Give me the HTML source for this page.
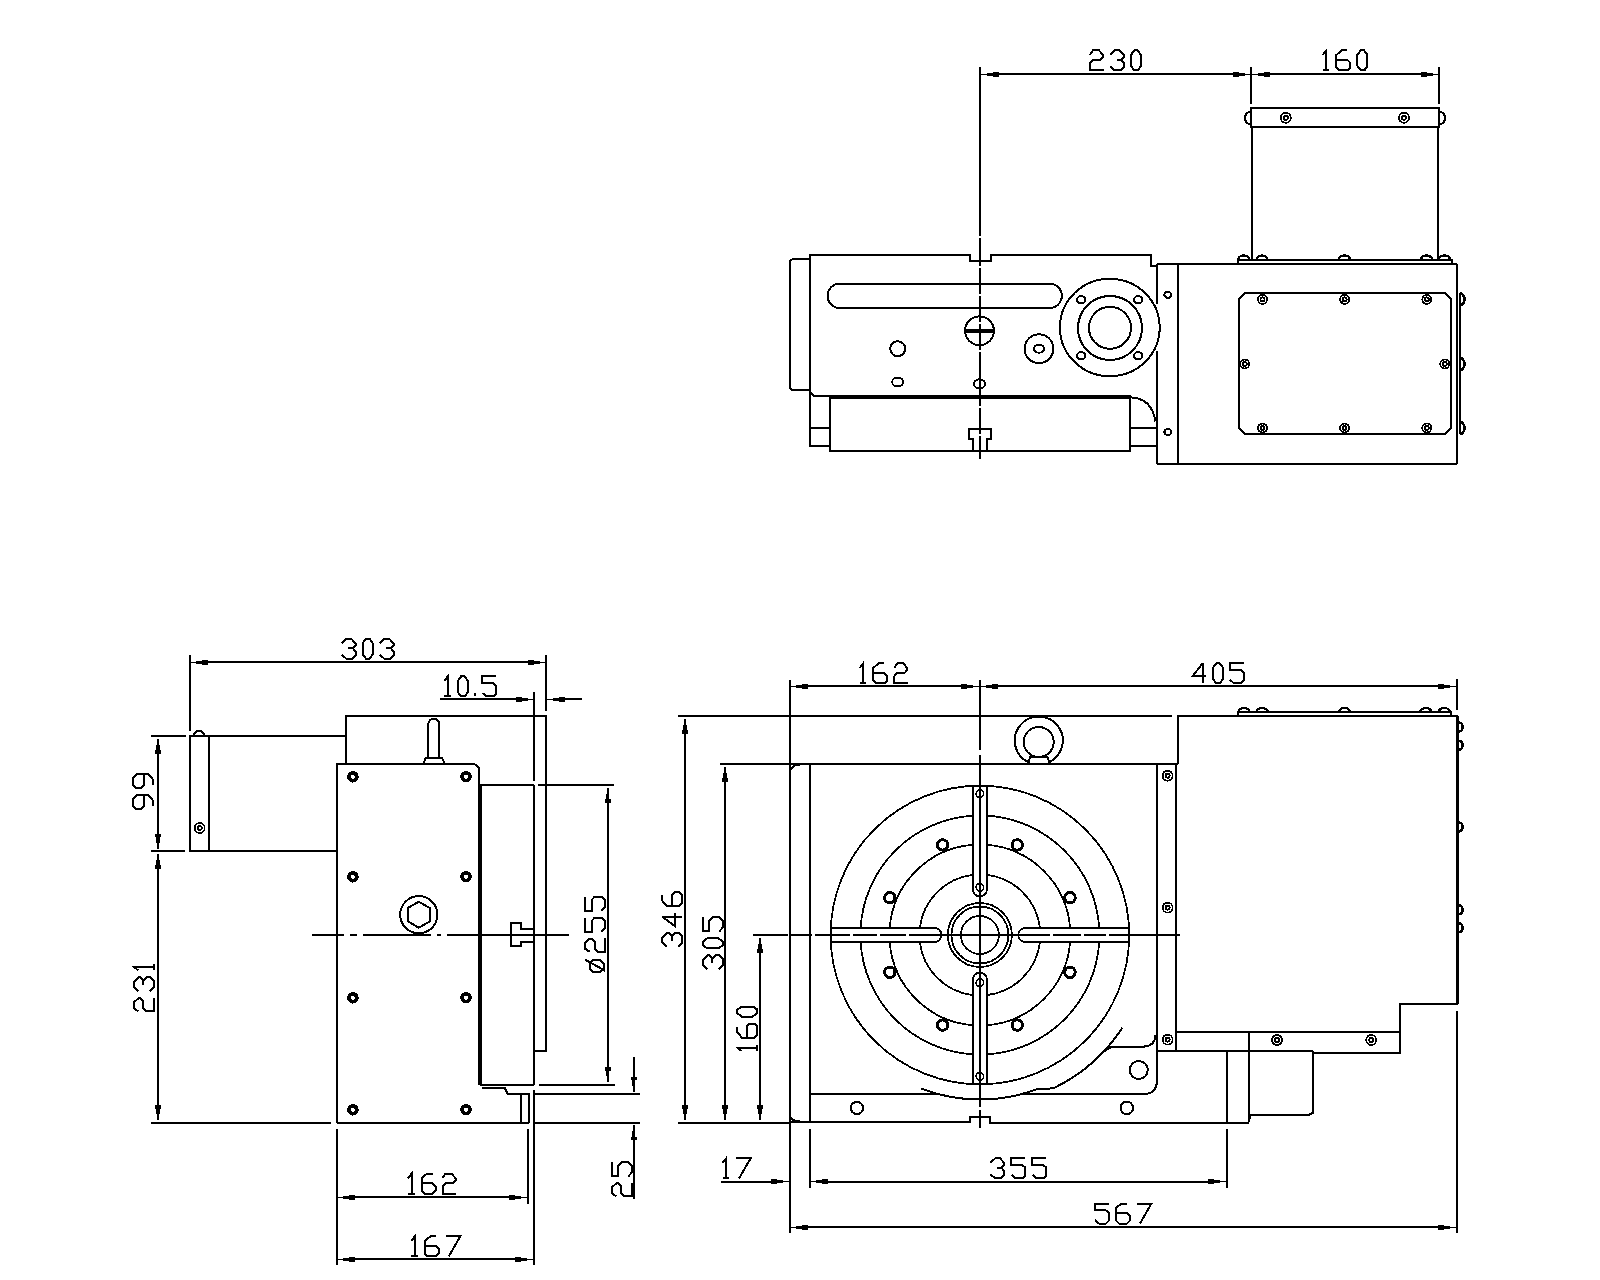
<!DOCTYPE html>
<html><head><meta charset="utf-8"><style>
html,body{margin:0;padding:0;background:#fff;}
body{width:1600px;height:1280px;overflow:hidden;font-family:"Liberation Sans",sans-serif;}
svg{display:block;}
</style></head><body>
<svg width="1600" height="1280" viewBox="0 0 1600 1280">
<rect x="0" y="0" width="1600" height="1280" fill="#fff"/>
<g fill="none" stroke="#000" stroke-linecap="butt" stroke-linejoin="miter" shape-rendering="crispEdges">
<line x1="980" y1="67" x2="980" y2="236" stroke-width="2"/>
<line x1="992" y1="74" x2="1239" y2="74" stroke-width="2"/>
<rect x="980" y="73.5" width="6.5" height="1" fill="#000" stroke="none"/>
<rect x="986.5" y="72.5" width="6" height="3" fill="#000" stroke="none"/>
<rect x="992.5" y="71.5" width="6" height="5" fill="#000" stroke="none"/>
<rect x="1244.5" y="73.5" width="6.5" height="1" fill="#000" stroke="none"/>
<rect x="1238.5" y="72.5" width="6" height="3" fill="#000" stroke="none"/>
<rect x="1232.5" y="71.5" width="6" height="5" fill="#000" stroke="none"/>
<line x1="1263" y1="74" x2="1427" y2="74" stroke-width="2"/>
<rect x="1251" y="73.5" width="6.5" height="1" fill="#000" stroke="none"/>
<rect x="1257.5" y="72.5" width="6" height="3" fill="#000" stroke="none"/>
<rect x="1263.5" y="71.5" width="6" height="5" fill="#000" stroke="none"/>
<rect x="1432.5" y="73.5" width="6.5" height="1" fill="#000" stroke="none"/>
<rect x="1426.5" y="72.5" width="6" height="3" fill="#000" stroke="none"/>
<rect x="1420.5" y="71.5" width="6" height="5" fill="#000" stroke="none"/>
<line x1="1251" y1="67" x2="1251" y2="104" stroke-width="2"/>
<line x1="1439" y1="67" x2="1439" y2="104" stroke-width="2"/>
<g transform="translate(1090,50.4)" stroke-width="2" stroke-linejoin="miter"><path transform="translate(0,0)" d="M0,4.5 L3,0 L9,0 L13,4.5 L13,6.5 L10.5,9.5 L3,9.5 L0,13 L0,20 L13.5,20"/><path transform="translate(20,0)" d="M0,4.5 L5,0 L9.5,0 L14,5 L14,7 L11,9.5 L6.5,9.5"/><path transform="translate(20,0)" d="M11,9.5 L14,13 L14,16.5 L10.5,20 L4.5,20 L0,16"/><path transform="translate(41,0)" d="M3.3,0 L6.7,0 L10,4.5 L10,15.5 L7,20 L3.3,20 L0,15.5 L0,4.5Z"/></g>
<g transform="translate(1322.9,50.4)" stroke-width="2" stroke-linejoin="miter"><path transform="translate(0,0)" d="M0,4.5 L3.5,0 L3.5,20"/><path transform="translate(0,0)" d="M0,20 L6.5,20"/><path transform="translate(13.5,0)" d="M11,0 L5.5,0 L0,4.5 L0,17 L3,20 L11,20 L14,17 L14,12.5 L11,9.5 L0,9.5"/><path transform="translate(34.5,0)" d="M3.3,0 L6.7,0 L10,4.5 L10,15.5 L7,20 L3.3,20 L0,15.5 L0,4.5Z"/></g>
<rect x="1251" y="108" width="187.5" height="19" stroke-width="2"/>
<path d="M1251,111.5 A6,6.5 0 0 0 1251,124.5" stroke-width="2.2" fill="none"/>
<path d="M1439,111.5 A6,6.5 0 0 1 1439,124.5" stroke-width="2.2" fill="none"/>
<circle cx="1285.8" cy="117.8" r="5" stroke-width="1.8"/>
<circle cx="1285.8" cy="117.8" r="2" stroke-width="1.9"/>
<circle cx="1404" cy="117.8" r="5" stroke-width="1.8"/>
<circle cx="1404" cy="117.8" r="2" stroke-width="1.9"/>
<line x1="1251.8" y1="127" x2="1251.8" y2="259.5" stroke-width="2"/>
<line x1="1438.2" y1="127" x2="1438.2" y2="259.5" stroke-width="2"/>
<rect x="1238" y="259.5" width="214" height="4.5" stroke-width="2"/>
<path d="M1238.3,259.5 A5.5,4 0 0 1 1249.3,259.5" stroke-width="2.4" fill="none"/>
<path d="M1256.5,259.5 A5.5,4 0 0 1 1267.5,259.5" stroke-width="2.4" fill="none"/>
<path d="M1338.9,259.5 A5.5,4 0 0 1 1349.9,259.5" stroke-width="2.4" fill="none"/>
<path d="M1421.1,259.5 A5.5,4 0 0 1 1432.1,259.5" stroke-width="2.4" fill="none"/>
<path d="M1438.9,259.5 A5.5,4 0 0 1 1449.9,259.5" stroke-width="2.4" fill="none"/>
<path d="M814,396 L810,392 L810,255 L970,255 L970,261 L991,261 L991,255 L1151,255 L1151,266 L1157,266" stroke-width="2" fill="none"/>
<line x1="813" y1="396" x2="829" y2="396" stroke-width="2"/>
<path d="M810,259 L794,259 Q790,259 790,263 L790,386 Q790,390 794,390 L810,390" stroke-width="2" fill="none"/>
<line x1="828.7" y1="397.2" x2="1131" y2="397.2" stroke-width="3.6"/>
<path d="M839.6,283.7 L1049.8,283.7 A12,12.15 0 0 1 1049.8,308 L839.6,308 A12,12.15 0 0 1 839.6,283.7Z" stroke-width="2" fill="none"/>
<circle cx="897.7" cy="348.7" r="7.5" stroke-width="2"/>
<ellipse cx="897.7" cy="382" rx="5.5" ry="4.5" stroke-width="2"/>
<circle cx="979.5" cy="330.8" r="14.4" stroke-width="2"/>
<line x1="964" y1="330.8" x2="995" y2="330.8" stroke-width="3.5"/>
<ellipse cx="979.5" cy="383.8" rx="5.5" ry="4.5" stroke-width="2"/>
<ellipse cx="1109.8" cy="327.5" rx="49.9" ry="48.7" stroke-width="2"/>
<circle cx="1110" cy="328" r="32" stroke-width="2"/>
<circle cx="1110" cy="327.8" r="21" stroke-width="2"/>
<ellipse cx="1081.2" cy="299.8" rx="4.2" ry="3.6" stroke-width="2"/>
<ellipse cx="1081.2" cy="355.8" rx="4.2" ry="3.6" stroke-width="2"/>
<ellipse cx="1138.2" cy="299.8" rx="4.2" ry="3.6" stroke-width="2"/>
<ellipse cx="1138.2" cy="355.8" rx="4.2" ry="3.6" stroke-width="2"/>
<circle cx="1039" cy="348.7" r="14.4" stroke-width="2"/>
<ellipse cx="1039" cy="348.7" rx="5" ry="4" stroke-width="2"/>
<line x1="1157" y1="264" x2="1457" y2="264" stroke-width="2"/>
<line x1="1457" y1="264" x2="1457" y2="463.6" stroke-width="2"/>
<line x1="1157" y1="463.6" x2="1457" y2="463.6" stroke-width="2"/>
<line x1="1157" y1="264" x2="1157" y2="304" stroke-width="2"/>
<line x1="1157" y1="351" x2="1157" y2="463.6" stroke-width="2"/>
<line x1="1177.7" y1="264" x2="1177.7" y2="463.6" stroke-width="2"/>
<ellipse cx="1167.8" cy="294.8" rx="3.5" ry="3" stroke-width="2"/>
<ellipse cx="1167.8" cy="432" rx="3.5" ry="3" stroke-width="2"/>
<path d="M810,392 L810,446 L830,446" stroke-width="2" fill="none"/>
<line x1="810" y1="428" x2="830" y2="428" stroke-width="2"/>
<path d="M830,397 L830,451 L1130,451 L1130,397" stroke-width="2" fill="none"/>
<path d="M973.2,450.6 L973.2,438.6 L968.7,438.6 L968.7,428.7 L991.2,428.7 L991.2,438.6 L986.7,438.6 L986.7,450.6" stroke-width="2" fill="none"/>
<path d="M1130,397.3 Q1152,398 1155.5,421.5" stroke-width="2" fill="none"/>
<line x1="1130" y1="427.8" x2="1157" y2="427.8" stroke-width="2"/>
<line x1="1130" y1="445.8" x2="1157" y2="445.8" stroke-width="2"/>
<path d="M1245,293 L1445,293 L1451,299 L1451,428 L1445,434 L1245,434 L1239,428 L1239,299Z" stroke-width="2" fill="none"/>
<circle cx="1262.5" cy="299.4" r="4.5" stroke-width="1.8"/>
<circle cx="1262.5" cy="299.4" r="2" stroke-width="1.9"/>
<circle cx="1262.5" cy="428" r="4.5" stroke-width="1.8"/>
<circle cx="1262.5" cy="428" r="2" stroke-width="1.9"/>
<circle cx="1344.6" cy="299.4" r="4.5" stroke-width="1.8"/>
<circle cx="1344.6" cy="299.4" r="2" stroke-width="1.9"/>
<circle cx="1344.6" cy="428" r="4.5" stroke-width="1.8"/>
<circle cx="1344.6" cy="428" r="2" stroke-width="1.9"/>
<circle cx="1426.8" cy="299.4" r="4.5" stroke-width="1.8"/>
<circle cx="1426.8" cy="299.4" r="2" stroke-width="1.9"/>
<circle cx="1426.8" cy="428" r="4.5" stroke-width="1.8"/>
<circle cx="1426.8" cy="428" r="2" stroke-width="1.9"/>
<circle cx="1244.7" cy="364" r="4.5" stroke-width="1.8"/>
<circle cx="1244.7" cy="364" r="2" stroke-width="1.9"/>
<circle cx="1444.8" cy="364" r="4.5" stroke-width="1.8"/>
<circle cx="1444.8" cy="364" r="2" stroke-width="1.9"/>
<line x1="1460" y1="293" x2="1460" y2="434" stroke-width="2"/>
<path d="M1460,293.4 A4.5,6 0 0 1 1460,305.4" stroke-width="2.6" fill="none"/>
<path d="M1460,358 A4.5,6 0 0 1 1460,370" stroke-width="2.6" fill="none"/>
<path d="M1460,422 A4.5,6 0 0 1 1460,434" stroke-width="2.6" fill="none"/>
<path d="M980,237.5 L980,265.5 M980,267.5 L980,293.5 M980,295.5 L980,321.5 M980,323.5 L980,349.5 M980,351.5 L980,377.5 M980,379.5 L980,405.5 M980,407.5 L980,433.5 M980,435.5 L980,459" stroke-width="1.9" fill="none"/>
<line x1="201.7" y1="662" x2="534" y2="662" stroke-width="2"/>
<rect x="189.7" y="661.5" width="6.5" height="1" fill="#000" stroke="none"/>
<rect x="196.2" y="660.5" width="6" height="3" fill="#000" stroke="none"/>
<rect x="202.2" y="659.5" width="6" height="5" fill="#000" stroke="none"/>
<rect x="539.5" y="661.5" width="6.5" height="1" fill="#000" stroke="none"/>
<rect x="533.5" y="660.5" width="6" height="3" fill="#000" stroke="none"/>
<rect x="527.5" y="659.5" width="6" height="5" fill="#000" stroke="none"/>
<line x1="189.7" y1="655" x2="189.7" y2="731" stroke-width="2"/>
<line x1="546" y1="655" x2="546" y2="711" stroke-width="2"/>
<g transform="translate(341.7,638.6)" stroke-width="2" stroke-linejoin="miter"><path transform="translate(0,0)" d="M0,4.5 L5,0 L9.5,0 L14,5 L14,7 L11,9.5 L6.5,9.5"/><path transform="translate(0,0)" d="M11,9.5 L14,13 L14,16.5 L10.5,20 L4.5,20 L0,16"/><path transform="translate(21,0)" d="M3.3,0 L6.7,0 L10,4.5 L10,15.5 L7,20 L3.3,20 L0,15.5 L0,4.5Z"/><path transform="translate(38,0)" d="M0,4.5 L5,0 L9.5,0 L14,5 L14,7 L11,9.5 L6.5,9.5"/><path transform="translate(38,0)" d="M11,9.5 L14,13 L14,16.5 L10.5,20 L4.5,20 L0,16"/></g>
<line x1="440" y1="699" x2="522" y2="699" stroke-width="2"/>
<rect x="527.5" y="698.5" width="6.5" height="1" fill="#000" stroke="none"/>
<rect x="521.5" y="697.5" width="6" height="3" fill="#000" stroke="none"/>
<rect x="515.5" y="696.5" width="6" height="5" fill="#000" stroke="none"/>
<line x1="558" y1="699" x2="581.7" y2="699" stroke-width="2"/>
<rect x="546" y="698.5" width="6.5" height="1" fill="#000" stroke="none"/>
<rect x="552.5" y="697.5" width="6" height="3" fill="#000" stroke="none"/>
<rect x="558.5" y="696.5" width="6" height="5" fill="#000" stroke="none"/>
<g transform="translate(444.3,676.4)" stroke-width="2" stroke-linejoin="miter"><path transform="translate(0,0)" d="M0,4.5 L3.5,0 L3.5,20"/><path transform="translate(0,0)" d="M0,20 L6.5,20"/><path transform="translate(13.5,0)" d="M3.3,0 L6.7,0 L10,4.5 L10,15.5 L7,20 L3.3,20 L0,15.5 L0,4.5Z"/><path transform="translate(30.5,0)" d="M0.25,16.5 L0.25,20"/><path transform="translate(38,0)" d="M14,0 L0,0 L0,6.5 L10.5,6.5 L14,9.5 L14,17 L11,20 L4,20 L0,16.5"/></g>
<line x1="534" y1="692" x2="534" y2="780.6" stroke-width="2"/>
<path d="M346,764 L346,716 L546,716 L546,1050.8 L534,1050.8" stroke-width="2" fill="none"/>
<rect x="190" y="736" width="19" height="115" stroke-width="2"/>
<line x1="209" y1="736" x2="346" y2="736" stroke-width="2"/>
<line x1="208.9" y1="851" x2="336.6" y2="851" stroke-width="2"/>
<path d="M193.5,736 A5.5,5 0 0 1 204.5,736" stroke-width="2" fill="none"/>
<circle cx="199.7" cy="828" r="5" stroke-width="1.8"/>
<circle cx="199.7" cy="828" r="2" stroke-width="1.9"/>
<line x1="151" y1="736" x2="186.4" y2="736" stroke-width="2"/>
<line x1="151" y1="851" x2="185" y2="851" stroke-width="2"/>
<line x1="158" y1="749.5" x2="158" y2="837.5" stroke-width="2"/>
<rect x="157" y="738.5" width="2" height="6" fill="#000" stroke="none"/>
<rect x="156.25" y="744.5" width="3.5" height="5.5" fill="#000" stroke="none"/>
<rect x="155" y="750" width="6" height="3.5" fill="#000" stroke="none"/>
<rect x="157" y="842.5" width="2" height="6" fill="#000" stroke="none"/>
<rect x="156.25" y="837" width="3.5" height="5.5" fill="#000" stroke="none"/>
<rect x="155" y="833.5" width="6" height="3.5" fill="#000" stroke="none"/>
<g transform="translate(133.3,809.4) rotate(-90)" stroke-width="2"><path transform="translate(0,0)" d="M3,20 L8.5,20 L14,15.5 L14,3 L11,0 L3,0 L0,3 L0,7.5 L3,10.5 L14,10.5"/><path transform="translate(21,0)" d="M3,20 L8.5,20 L14,15.5 L14,3 L11,0 L3,0 L0,3 L0,7.5 L3,10.5 L14,10.5"/></g>
<line x1="158" y1="864.5" x2="158" y2="1109" stroke-width="2"/>
<rect x="157" y="853.5" width="2" height="6" fill="#000" stroke="none"/>
<rect x="156.25" y="859.5" width="3.5" height="5.5" fill="#000" stroke="none"/>
<rect x="155" y="865" width="6" height="3.5" fill="#000" stroke="none"/>
<rect x="157" y="1114" width="2" height="6" fill="#000" stroke="none"/>
<rect x="156.25" y="1108.5" width="3.5" height="5.5" fill="#000" stroke="none"/>
<rect x="155" y="1105" width="6" height="3.5" fill="#000" stroke="none"/>
<g transform="translate(133.8,1011.4) rotate(-90)" stroke-width="2"><path transform="translate(0,0)" d="M0,4.5 L3,0 L9,0 L13,4.5 L13,6.5 L10.5,9.5 L3,9.5 L0,13 L0,20 L13.5,20"/><path transform="translate(20,0)" d="M0,4.5 L5,0 L9.5,0 L14,5 L14,7 L11,9.5 L6.5,9.5"/><path transform="translate(20,0)" d="M11,9.5 L14,13 L14,16.5 L10.5,20 L4.5,20 L0,16"/><path transform="translate(41,0)" d="M0,4.5 L3.5,0 L3.5,20"/><path transform="translate(41,0)" d="M0,20 L6.5,20"/></g>
<line x1="151" y1="1122.7" x2="331" y2="1122.7" stroke-width="2"/>
<path d="M336.6,1122.7 L336.6,764 L472.4,764 A7,7 0 0 1 479.4,771 L479.4,784" stroke-width="2" fill="none"/>
<line x1="480" y1="784" x2="480" y2="1085.3" stroke-width="3.5"/>
<path d="M428.4,757.7 L428.4,724 A5.35,5.35 0 0 1 439.1,724 L439.1,757.7" stroke-width="2" fill="none"/>
<path d="M423.5,764 L425.5,757.7 L442,757.7 L445,764" stroke-width="2" fill="none"/>
<circle cx="352.9" cy="776.8" r="3.9" stroke-width="3.8"/>
<circle cx="466" cy="776.8" r="3.9" stroke-width="3.8"/>
<circle cx="352.9" cy="876.8" r="3.9" stroke-width="3.8"/>
<circle cx="466" cy="876.8" r="3.9" stroke-width="3.8"/>
<circle cx="352.9" cy="997.8" r="3.9" stroke-width="3.8"/>
<circle cx="466" cy="997.8" r="3.9" stroke-width="3.8"/>
<circle cx="352.9" cy="1109.8" r="3.9" stroke-width="3.8"/>
<circle cx="466" cy="1109.8" r="3.9" stroke-width="3.8"/>
<circle cx="418.8" cy="914.7" r="18.6" stroke-width="2"/>
<path d="M418.8,901.7 L430.06,908.2 L430.06,921.2 L418.8,927.7 L407.54,921.2 L407.54,908.2Z" stroke-width="2" fill="none"/>
<path d="M312,935 L344,935 M350,935 L357,935 M363,935 L431,935 M437,935 L441,935 M447,935 L569,935" stroke-width="1.8" fill="none"/>
<line x1="480" y1="785" x2="534" y2="785" stroke-width="2"/>
<line x1="538" y1="785" x2="614.4" y2="785" stroke-width="2"/>
<line x1="534" y1="785" x2="534" y2="1085" stroke-width="2"/>
<path d="M534,929 L521,929 L521,923.4 L510.5,923.4 L510.5,946.4 L521,946.4 L521,942 L534,942" stroke-width="2" fill="none"/>
<line x1="480" y1="1085.3" x2="534" y2="1085.3" stroke-width="2"/>
<path d="M481.6,1087.5 L504.5,1087.5 L507.8,1094 L528.6,1094 L528.6,1122.7" stroke-width="2" fill="none"/>
<line x1="521.4" y1="1094" x2="521.4" y2="1122.7" stroke-width="2"/>
<line x1="533.6" y1="1089.7" x2="533.6" y2="1265" stroke-width="2"/>
<line x1="336.6" y1="1122.7" x2="528.6" y2="1122.7" stroke-width="2"/>
<line x1="538.5" y1="1084.7" x2="615" y2="1084.7" stroke-width="2"/>
<line x1="534" y1="1094" x2="640" y2="1094" stroke-width="2"/>
<line x1="534" y1="1122.7" x2="640" y2="1122.7" stroke-width="2"/>
<line x1="607.6" y1="798.5" x2="607.6" y2="1071.2" stroke-width="2"/>
<rect x="606.6" y="787.5" width="2" height="6" fill="#000" stroke="none"/>
<rect x="605.85" y="793.5" width="3.5" height="5.5" fill="#000" stroke="none"/>
<rect x="604.6" y="799" width="6" height="3.5" fill="#000" stroke="none"/>
<rect x="606.6" y="1076.2" width="2" height="6" fill="#000" stroke="none"/>
<rect x="605.85" y="1070.7" width="3.5" height="5.5" fill="#000" stroke="none"/>
<rect x="604.6" y="1067.2" width="6" height="3.5" fill="#000" stroke="none"/>
<g transform="translate(585.1,973.2) rotate(-90)" stroke-width="2"><path transform="translate(0,0)" d="M4.5,4.5 L10,4.5 L13.5,8.5 L13.5,15 L10,18.5 L4.5,18.5 L1,15 L1,8.5Z"/><path transform="translate(0,0)" d="M13.5,0 L2.5,20"/><path transform="translate(21.5,0)" d="M0,4.5 L3,0 L9,0 L13,4.5 L13,6.5 L10.5,9.5 L3,9.5 L0,13 L0,20 L13.5,20"/><path transform="translate(41.5,0)" d="M14,0 L0,0 L0,6.5 L10.5,6.5 L14,9.5 L14,17 L11,20 L4,20 L0,16.5"/><path transform="translate(62.5,0)" d="M14,0 L0,0 L0,6.5 L10.5,6.5 L14,9.5 L14,17 L11,20 L4,20 L0,16.5"/></g>
<line x1="633.5" y1="1057" x2="633.5" y2="1081" stroke-width="2"/>
<rect x="632.5" y="1085.5" width="2" height="6" fill="#000" stroke="none"/>
<rect x="631.75" y="1080" width="3.5" height="5.5" fill="#000" stroke="none"/>
<rect x="630.5" y="1076.5" width="6" height="3.5" fill="#000" stroke="none"/>
<line x1="633.5" y1="1136" x2="633.5" y2="1199" stroke-width="2"/>
<rect x="632.5" y="1125.2" width="2" height="6" fill="#000" stroke="none"/>
<rect x="631.75" y="1131.2" width="3.5" height="5.5" fill="#000" stroke="none"/>
<rect x="630.5" y="1136.7" width="6" height="3.5" fill="#000" stroke="none"/>
<g transform="translate(611.8,1196.4) rotate(-90)" stroke-width="2"><path transform="translate(0,0)" d="M0,4.5 L3,0 L9,0 L13,4.5 L13,6.5 L10.5,9.5 L3,9.5 L0,13 L0,20 L13.5,20"/><path transform="translate(20,0)" d="M14,0 L0,0 L0,6.5 L10.5,6.5 L14,9.5 L14,17 L11,20 L4,20 L0,16.5"/></g>
<line x1="336.6" y1="1129" x2="336.6" y2="1265" stroke-width="2"/>
<line x1="527.8" y1="1129" x2="527.8" y2="1203.5" stroke-width="2"/>
<line x1="348.6" y1="1197.1" x2="515.8" y2="1197.1" stroke-width="2"/>
<rect x="336.6" y="1196.6" width="6.5" height="1" fill="#000" stroke="none"/>
<rect x="343.1" y="1195.6" width="6" height="3" fill="#000" stroke="none"/>
<rect x="349.1" y="1194.6" width="6" height="5" fill="#000" stroke="none"/>
<rect x="521.3" y="1196.6" width="6.5" height="1" fill="#000" stroke="none"/>
<rect x="515.3" y="1195.6" width="6" height="3" fill="#000" stroke="none"/>
<rect x="509.3" y="1194.6" width="6" height="5" fill="#000" stroke="none"/>
<g transform="translate(408,1173.7)" stroke-width="2" stroke-linejoin="miter"><path transform="translate(0,0)" d="M0,4.5 L3.5,0 L3.5,20"/><path transform="translate(0,0)" d="M0,20 L6.5,20"/><path transform="translate(13.5,0)" d="M11,0 L5.5,0 L0,4.5 L0,17 L3,20 L11,20 L14,17 L14,12.5 L11,9.5 L0,9.5"/><path transform="translate(34.5,0)" d="M0,4.5 L3,0 L9,0 L13,4.5 L13,6.5 L10.5,9.5 L3,9.5 L0,13 L0,20 L13.5,20"/></g>
<line x1="348.6" y1="1259.4" x2="521.6" y2="1259.4" stroke-width="2"/>
<rect x="336.6" y="1258.9" width="6.5" height="1" fill="#000" stroke="none"/>
<rect x="343.1" y="1257.9" width="6" height="3" fill="#000" stroke="none"/>
<rect x="349.1" y="1256.9" width="6" height="5" fill="#000" stroke="none"/>
<rect x="527.1" y="1258.9" width="6.5" height="1" fill="#000" stroke="none"/>
<rect x="521.1" y="1257.9" width="6" height="3" fill="#000" stroke="none"/>
<rect x="515.1" y="1256.9" width="6" height="5" fill="#000" stroke="none"/>
<g transform="translate(411.3,1236.4)" stroke-width="2" stroke-linejoin="miter"><path transform="translate(0,0)" d="M0,4.5 L3.5,0 L3.5,20"/><path transform="translate(0,0)" d="M0,20 L6.5,20"/><path transform="translate(13.5,0)" d="M11,0 L5.5,0 L0,4.5 L0,17 L3,20 L11,20 L14,17 L14,12.5 L11,9.5 L0,9.5"/><path transform="translate(34.5,0)" d="M0,0 L14.5,0 L3,20"/></g>
<line x1="801.6" y1="686" x2="967.8" y2="686" stroke-width="2"/>
<rect x="789.6" y="685.5" width="6.5" height="1" fill="#000" stroke="none"/>
<rect x="796.1" y="684.5" width="6" height="3" fill="#000" stroke="none"/>
<rect x="802.1" y="683.5" width="6" height="5" fill="#000" stroke="none"/>
<rect x="973.3" y="685.5" width="6.5" height="1" fill="#000" stroke="none"/>
<rect x="967.3" y="684.5" width="6" height="3" fill="#000" stroke="none"/>
<rect x="961.3" y="683.5" width="6" height="5" fill="#000" stroke="none"/>
<line x1="991.8" y1="686" x2="1444.6" y2="686" stroke-width="2"/>
<rect x="979.8" y="685.5" width="6.5" height="1" fill="#000" stroke="none"/>
<rect x="986.3" y="684.5" width="6" height="3" fill="#000" stroke="none"/>
<rect x="992.3" y="683.5" width="6" height="5" fill="#000" stroke="none"/>
<rect x="1450.1" y="685.5" width="6.5" height="1" fill="#000" stroke="none"/>
<rect x="1444.1" y="684.5" width="6" height="3" fill="#000" stroke="none"/>
<rect x="1438.1" y="683.5" width="6" height="5" fill="#000" stroke="none"/>
<g transform="translate(859.7,663.4)" stroke-width="2" stroke-linejoin="miter"><path transform="translate(0,0)" d="M0,4.5 L3.5,0 L3.5,20"/><path transform="translate(0,0)" d="M0,20 L6.5,20"/><path transform="translate(13.5,0)" d="M11,0 L5.5,0 L0,4.5 L0,17 L3,20 L11,20 L14,17 L14,12.5 L11,9.5 L0,9.5"/><path transform="translate(34.5,0)" d="M0,4.5 L3,0 L9,0 L13,4.5 L13,6.5 L10.5,9.5 L3,9.5 L0,13 L0,20 L13.5,20"/></g>
<g transform="translate(1193,663.3)" stroke-width="2" stroke-linejoin="miter"><path transform="translate(0,0)" d="M9.5,0 L0,12.5 L13,12.5"/><path transform="translate(0,0)" d="M9.5,0 L9.5,20"/><path transform="translate(20,0)" d="M3.3,0 L6.7,0 L10,4.5 L10,15.5 L7,20 L3.3,20 L0,15.5 L0,4.5Z"/><path transform="translate(37,0)" d="M14,0 L0,0 L0,6.5 L10.5,6.5 L14,9.5 L14,17 L11,20 L4,20 L0,16.5"/></g>
<line x1="789.6" y1="680" x2="789.6" y2="771" stroke-width="2"/>
<line x1="1456.6" y1="679.3" x2="1456.6" y2="710" stroke-width="2"/>
<line x1="980" y1="680" x2="980" y2="749.5" stroke-width="1.9"/>
<path d="M980,754.7 L980,1107 M980,1110 L980,1128" stroke-width="1.9" fill="none"/>
<line x1="678.3" y1="716" x2="1172.2" y2="716" stroke-width="2"/>
<line x1="719.5" y1="764" x2="1178" y2="764" stroke-width="2"/>
<line x1="685" y1="729.5" x2="685" y2="1109.2" stroke-width="2"/>
<rect x="684" y="718.5" width="2" height="6" fill="#000" stroke="none"/>
<rect x="683.25" y="724.5" width="3.5" height="5.5" fill="#000" stroke="none"/>
<rect x="682" y="730" width="6" height="3.5" fill="#000" stroke="none"/>
<rect x="684" y="1114.2" width="2" height="6" fill="#000" stroke="none"/>
<rect x="683.25" y="1108.7" width="3.5" height="5.5" fill="#000" stroke="none"/>
<rect x="682" y="1105.2" width="6" height="3.5" fill="#000" stroke="none"/>
<g transform="translate(662.1,947) rotate(-90)" stroke-width="2"><path transform="translate(0,0)" d="M0,4.5 L5,0 L9.5,0 L14,5 L14,7 L11,9.5 L6.5,9.5"/><path transform="translate(0,0)" d="M11,9.5 L14,13 L14,16.5 L10.5,20 L4.5,20 L0,16"/><path transform="translate(21,0)" d="M9.5,0 L0,12.5 L13,12.5"/><path transform="translate(21,0)" d="M9.5,0 L9.5,20"/><path transform="translate(41,0)" d="M11,0 L5.5,0 L0,4.5 L0,17 L3,20 L11,20 L14,17 L14,12.5 L11,9.5 L0,9.5"/></g>
<line x1="725" y1="777.5" x2="725" y2="1109.2" stroke-width="2"/>
<rect x="724" y="766.5" width="2" height="6" fill="#000" stroke="none"/>
<rect x="723.25" y="772.5" width="3.5" height="5.5" fill="#000" stroke="none"/>
<rect x="722" y="778" width="6" height="3.5" fill="#000" stroke="none"/>
<rect x="724" y="1114.2" width="2" height="6" fill="#000" stroke="none"/>
<rect x="723.25" y="1108.7" width="3.5" height="5.5" fill="#000" stroke="none"/>
<rect x="722" y="1105.2" width="6" height="3.5" fill="#000" stroke="none"/>
<g transform="translate(702.8,969.4) rotate(-90)" stroke-width="2"><path transform="translate(0,0)" d="M0,4.5 L5,0 L9.5,0 L14,5 L14,7 L11,9.5 L6.5,9.5"/><path transform="translate(0,0)" d="M11,9.5 L14,13 L14,16.5 L10.5,20 L4.5,20 L0,16"/><path transform="translate(21,0)" d="M3.3,0 L6.7,0 L10,4.5 L10,15.5 L7,20 L3.3,20 L0,15.5 L0,4.5Z"/><path transform="translate(38,0)" d="M14,0 L0,0 L0,6.5 L10.5,6.5 L14,9.5 L14,17 L11,20 L4,20 L0,16.5"/></g>
<line x1="760" y1="948.5" x2="760" y2="1109.2" stroke-width="2"/>
<rect x="759" y="937.5" width="2" height="6" fill="#000" stroke="none"/>
<rect x="758.25" y="943.5" width="3.5" height="5.5" fill="#000" stroke="none"/>
<rect x="757" y="949" width="6" height="3.5" fill="#000" stroke="none"/>
<rect x="759" y="1114.2" width="2" height="6" fill="#000" stroke="none"/>
<rect x="758.25" y="1108.7" width="3.5" height="5.5" fill="#000" stroke="none"/>
<rect x="757" y="1105.2" width="6" height="3.5" fill="#000" stroke="none"/>
<g transform="translate(737.2,1051) rotate(-90)" stroke-width="2"><path transform="translate(0,0)" d="M0,4.5 L3.5,0 L3.5,20"/><path transform="translate(0,0)" d="M0,20 L6.5,20"/><path transform="translate(13.5,0)" d="M11,0 L5.5,0 L0,4.5 L0,17 L3,20 L11,20 L14,17 L14,12.5 L11,9.5 L0,9.5"/><path transform="translate(34.5,0)" d="M3.3,0 L6.7,0 L10,4.5 L10,15.5 L7,20 L3.3,20 L0,15.5 L0,4.5Z"/></g>
<path d="M752.6,935 L788,935 M791,935 L812,935" stroke-width="1.9" fill="none"/>
<line x1="678" y1="1122.7" x2="789.6" y2="1122.7" stroke-width="2"/>
<path d="M800,764.5 Q789.6,765 789.6,775 L789.6,1232.8" stroke-width="2" fill="none"/>
<line x1="810" y1="764" x2="810" y2="1122.4" stroke-width="2"/>
<path d="M789.6,1113 Q789.6,1121.5 800,1121.5" stroke-width="2" fill="none"/>
<path d="M789.6,1122.4 L969.7,1122.4 L969.7,1116.6 L990.4,1116.6 L990.4,1123 L1248.8,1123" stroke-width="2" fill="none"/>
<line x1="809.7" y1="1093.9" x2="937.4" y2="1093.9" stroke-width="2"/>
<circle cx="857" cy="1108" r="6.2" stroke-width="2"/>
<circle cx="1126.8" cy="1107.9" r="6.3" stroke-width="2"/>
<path d="M920.95,1088.57 A164.5,164.5 0 0 0 1037.24,1089.18" stroke-width="2" fill="none"/>
<line x1="1022.6" y1="1093.8" x2="1145" y2="1093.8" stroke-width="2"/>
<path d="M1157,764 L1157,1080.4 Q1156.7,1093.8 1145,1093.8" stroke-width="2" fill="none"/>
<path d="M1037.24,1089.18 L1053.35,1088.31 A170,170 0 0 0 1122.47,1027.59" stroke-width="2" fill="none"/>
<path d="M1105,1050.8 L1112,1046.7 L1143.6,1046.7 Q1155.3,1046 1155.3,1035" stroke-width="2" fill="none"/>
<circle cx="1138.8" cy="1070" r="9" stroke-width="2"/>
<line x1="1176" y1="764" x2="1176" y2="1050.8" stroke-width="2"/>
<circle cx="1167.6" cy="775.7" r="5" stroke-width="1.8"/>
<circle cx="1167.6" cy="775.7" r="2" stroke-width="1.9"/>
<circle cx="1167.6" cy="907.6" r="5" stroke-width="1.8"/>
<circle cx="1167.6" cy="907.6" r="2" stroke-width="1.9"/>
<circle cx="1167.6" cy="1039.6" r="5" stroke-width="1.8"/>
<circle cx="1167.6" cy="1039.6" r="2" stroke-width="1.9"/>
<line x1="1140" y1="935.2" x2="1180.4" y2="935.2" stroke-width="1.8"/>
<path d="M1178,764 L1178,716 L1457.7,716" stroke-width="2" fill="none"/>
<line x1="1457.7" y1="716" x2="1457.7" y2="1004.3" stroke-width="3"/>
<path d="M1457.7,1004.3 L1400.3,1004.3 L1400.3,1052.5 L1313.2,1052.5" stroke-width="2" fill="none"/>
<rect x="1238.2" y="712" width="213.1" height="4" stroke-width="2"/>
<path d="M1238.6,712 A5.5,4 0 0 1 1249.6,712" stroke-width="2.4" fill="none"/>
<path d="M1256.7,712 A5.5,4 0 0 1 1267.7,712" stroke-width="2.4" fill="none"/>
<path d="M1338.9,712 A5.5,4 0 0 1 1349.9,712" stroke-width="2.4" fill="none"/>
<path d="M1420.3,712 A5.5,4 0 0 1 1431.3,712" stroke-width="2.4" fill="none"/>
<path d="M1438.8,712 A5.5,4 0 0 1 1449.8,712" stroke-width="2.4" fill="none"/>
<path d="M1459,722.5 A3.5,4.5 0 0 1 1459,731.5" stroke-width="2.6" fill="none"/>
<path d="M1459,740.7 A3.5,4.5 0 0 1 1459,749.7" stroke-width="2.6" fill="none"/>
<path d="M1459,822.5 A3.5,4.5 0 0 1 1459,831.5" stroke-width="2.6" fill="none"/>
<path d="M1459,905.2 A3.5,4.5 0 0 1 1459,914.2" stroke-width="2.6" fill="none"/>
<path d="M1459,923.3 A3.5,4.5 0 0 1 1459,932.3" stroke-width="2.6" fill="none"/>
<line x1="1176" y1="1032" x2="1400.3" y2="1032" stroke-width="2"/>
<line x1="1157" y1="1051" x2="1313.2" y2="1051" stroke-width="2"/>
<line x1="1248.8" y1="1032" x2="1248.8" y2="1121.8" stroke-width="2"/>
<circle cx="1277" cy="1040" r="5" stroke-width="1.8"/>
<circle cx="1277" cy="1040" r="2" stroke-width="1.9"/>
<circle cx="1371.2" cy="1040" r="5" stroke-width="1.8"/>
<circle cx="1371.2" cy="1040" r="2" stroke-width="1.9"/>
<line x1="1227.1" y1="1051" x2="1227.1" y2="1122" stroke-width="2"/>
<line x1="1227.1" y1="1128.5" x2="1227.1" y2="1188.4" stroke-width="2"/>
<path d="M1313.2,1051 L1313.2,1112.7 L1309,1114.8 L1250.5,1114.8 L1248.8,1121.8" stroke-width="2" fill="none"/>
<line x1="1457" y1="1010.7" x2="1457" y2="1233" stroke-width="2"/>
<path d="M1029,762.5 A24,24 0 1 1 1048.5,762.5" stroke-width="2" fill="none"/>
<circle cx="1038.7" cy="742" r="15" stroke-width="2"/>
<path d="M1028.2,764 L1030,757 L1047.5,757 L1050,764" stroke-width="2" fill="none"/>
<circle cx="979.9" cy="935" r="149.3" stroke-width="1.8"/>
<path d="M1099.18,942.2 A119.5,119.5 0 0 1 987.1,1054.28 M972.7,1054.28 A119.5,119.5 0 0 1 860.62,942.2 M860.62,927.8 A119.5,119.5 0 0 1 972.7,815.72 M987.1,815.72 A119.5,119.5 0 0 1 1099.18,927.8" stroke-width="1.8" fill="none"/>
<path d="M1070.11,942.2 A90.5,90.5 0 0 1 987.1,1025.21 M972.7,1025.21 A90.5,90.5 0 0 1 889.69,942.2 M889.69,927.8 A90.5,90.5 0 0 1 972.7,844.79 M987.1,844.79 A90.5,90.5 0 0 1 1070.11,927.8" stroke-width="1.8" fill="none"/>
<path d="M1039.97,942.2 A60.5,60.5 0 0 1 987.1,995.07 M972.7,995.07 A60.5,60.5 0 0 1 919.83,942.2 M919.83,927.8 A60.5,60.5 0 0 1 972.7,874.93 M987.1,874.93 A60.5,60.5 0 0 1 1039.97,927.8" stroke-width="1.8" fill="none"/>
<circle cx="979.9" cy="935" r="32" stroke-width="1.8"/>
<circle cx="979.9" cy="935" r="28.5" stroke-width="1.8"/>
<circle cx="979.9" cy="935" r="19" stroke-width="1.8"/>
<circle cx="1069.98" cy="972.31" r="5.2" stroke-width="3"/>
<circle cx="1017.21" cy="1025.08" r="5.2" stroke-width="3"/>
<circle cx="942.59" cy="1025.08" r="5.2" stroke-width="3"/>
<circle cx="889.82" cy="972.31" r="5.2" stroke-width="3"/>
<circle cx="889.82" cy="897.69" r="5.2" stroke-width="3"/>
<circle cx="942.59" cy="844.92" r="5.2" stroke-width="3"/>
<circle cx="1017.21" cy="844.92" r="5.2" stroke-width="3"/>
<circle cx="1069.98" cy="897.69" r="5.2" stroke-width="3"/>
<path d="M972.9,786 L972.9,889.5 A7,7 0 0 0 986.9,889.5 L986.9,786" stroke-width="1.8" fill="none"/>
<path d="M972.9,1084 L972.9,979.5 A7,7 0 0 1 986.9,979.5 L986.9,1084" stroke-width="1.8" fill="none"/>
<path d="M830.5,928 L934.5,928 A7,7 0 0 1 934.5,942 L830.5,942" stroke-width="1.8" fill="none"/>
<path d="M1129.3,928 L1025.3,928 A7,7 0 0 0 1025.3,942 L1129.3,942" stroke-width="1.8" fill="none"/>
<circle cx="979.9" cy="793.7" r="3.8" stroke-width="1.6"/>
<circle cx="979.9" cy="887.3" r="3.8" stroke-width="1.6"/>
<circle cx="979.9" cy="982.7" r="3.8" stroke-width="1.6"/>
<circle cx="979.9" cy="1076.3" r="3.8" stroke-width="1.6"/>
<path d="M815,935 L850,935 M853,935 L877,935 M880,935 L906,935 M909,935 L1050,935 M1053,935 L1081,935 M1084,935 L1106,935 M1109,935 L1180,935" stroke-width="1.8" fill="none"/>
<line x1="720.6" y1="1181.8" x2="777.6" y2="1181.8" stroke-width="2"/>
<rect x="783.1" y="1181.3" width="6.5" height="1" fill="#000" stroke="none"/>
<rect x="777.1" y="1180.3" width="6" height="3" fill="#000" stroke="none"/>
<rect x="771.1" y="1179.3" width="6" height="5" fill="#000" stroke="none"/>
<rect x="809.8" y="1181.3" width="6.5" height="1" fill="#000" stroke="none"/>
<rect x="816.3" y="1180.3" width="6" height="3" fill="#000" stroke="none"/>
<rect x="822.3" y="1179.3" width="6" height="5" fill="#000" stroke="none"/>
<g transform="translate(722.6,1158.4)" stroke-width="2" stroke-linejoin="miter"><path transform="translate(0,0)" d="M0,4.5 L3.5,0 L3.5,20"/><path transform="translate(0,0)" d="M0,20 L6.5,20"/><path transform="translate(13.5,0)" d="M0,0 L14.5,0 L3,20"/></g>
<line x1="809.8" y1="1128.7" x2="809.8" y2="1188.2" stroke-width="2"/>
<line x1="821.8" y1="1181.6" x2="1214.9" y2="1181.6" stroke-width="2"/>
<rect x="809.8" y="1181.1" width="6.5" height="1" fill="#000" stroke="none"/>
<rect x="816.3" y="1180.1" width="6" height="3" fill="#000" stroke="none"/>
<rect x="822.3" y="1179.1" width="6" height="5" fill="#000" stroke="none"/>
<rect x="1220.4" y="1181.1" width="6.5" height="1" fill="#000" stroke="none"/>
<rect x="1214.4" y="1180.1" width="6" height="3" fill="#000" stroke="none"/>
<rect x="1208.4" y="1179.1" width="6" height="5" fill="#000" stroke="none"/>
<g transform="translate(990.4,1158.2)" stroke-width="2" stroke-linejoin="miter"><path transform="translate(0,0)" d="M0,4.5 L5,0 L9.5,0 L14,5 L14,7 L11,9.5 L6.5,9.5"/><path transform="translate(0,0)" d="M11,9.5 L14,13 L14,16.5 L10.5,20 L4.5,20 L0,16"/><path transform="translate(21,0)" d="M14,0 L0,0 L0,6.5 L10.5,6.5 L14,9.5 L14,17 L11,20 L4,20 L0,16.5"/><path transform="translate(42,0)" d="M14,0 L0,0 L0,6.5 L10.5,6.5 L14,9.5 L14,17 L11,20 L4,20 L0,16.5"/></g>
<line x1="801.6" y1="1227" x2="1444.6" y2="1227" stroke-width="2"/>
<rect x="789.6" y="1226.5" width="6.5" height="1" fill="#000" stroke="none"/>
<rect x="796.1" y="1225.5" width="6" height="3" fill="#000" stroke="none"/>
<rect x="802.1" y="1224.5" width="6" height="5" fill="#000" stroke="none"/>
<rect x="1450.1" y="1226.5" width="6.5" height="1" fill="#000" stroke="none"/>
<rect x="1444.1" y="1225.5" width="6" height="3" fill="#000" stroke="none"/>
<rect x="1438.1" y="1224.5" width="6" height="5" fill="#000" stroke="none"/>
<g transform="translate(1095,1203.5)" stroke-width="2" stroke-linejoin="miter"><path transform="translate(0,0)" d="M14,0 L0,0 L0,6.5 L10.5,6.5 L14,9.5 L14,17 L11,20 L4,20 L0,16.5"/><path transform="translate(21,0)" d="M11,0 L5.5,0 L0,4.5 L0,17 L3,20 L11,20 L14,17 L14,12.5 L11,9.5 L0,9.5"/><path transform="translate(42,0)" d="M0,0 L14.5,0 L3,20"/></g>
</g>
</svg>
</body></html>
